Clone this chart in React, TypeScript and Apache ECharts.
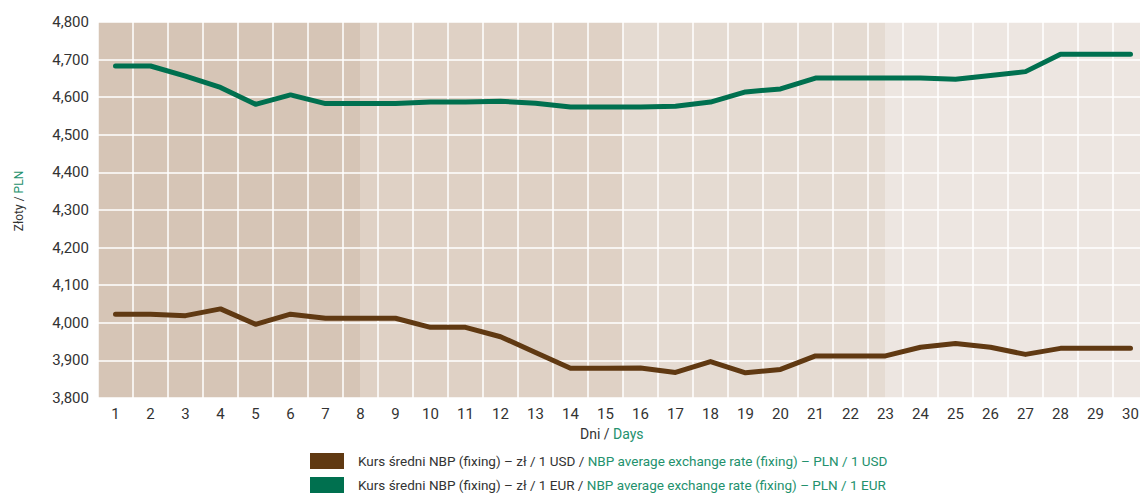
import React, { useEffect, useRef } from "react";
import * as echarts from "echarts";

const days = Array.from({ length: 30 }, (_, i) => String(i + 1));
const usdRates = [4.023, 4.023, 4.019, 4.037, 3.996, 4.023, 4.012, 4.012, 4.012, 3.988, 3.988, 3.963, 3.921, 3.879, 3.879, 3.880, 3.868, 3.897, 3.867, 3.876, 3.912, 3.912, 3.912, 3.935, 3.945, 3.935, 3.916, 3.932, 3.932, 3.932];
const eurRates = [4.683, 4.683, 4.656, 4.626, 4.581, 4.606, 4.583, 4.583, 4.583, 4.587, 4.587, 4.589, 4.584, 4.574, 4.574, 4.574, 4.576, 4.587, 4.614, 4.622, 4.651, 4.651, 4.651, 4.651, 4.648, 4.658, 4.668, 4.714, 4.714, 4.714];
const yMin = 3.8;
const yMax = 4.8;
const yStep = 0.1;
const seriesNames = ["USD", "EUR"];
const legendPl = {
  USD: "Kurs średni NBP (fixing) – zł / 1 USD / ",
  EUR: "Kurs średni NBP (fixing) – zł / 1 EUR / ",
};
const legendEn = {
  USD: "NBP average exchange rate (fixing) – PLN / 1 USD",
  EUR: "NBP average exchange rate (fixing) – PLN / 1 EUR",
};

const BROWN = "#603912";
const GREEN = "#00704f";
const TEXT_GREEN = "#23916d";
const TEXT = "#333333";
const FONT = "Roboto, 'Open Sans', sans-serif";

export default function App() {
  const ref = useRef<HTMLDivElement>(null);
  useEffect(() => {
    if (!ref.current) return;
    const chart = echarts.init(ref.current, null, { renderer: "svg" });
    const bands = ["#d6c5b6", "#dfd1c5", "#e5dbd2", "#ede6e1"];
    const stops: any[] = [];
    bands.forEach((c, i) => {
      stops.push({ offset: i / 4, color: c });
      stops.push({ offset: (i + 1) / 4, color: c });
    });
    const makeLegend = (name: string, top: number) => ({
      show: true,
      orient: "horizontal",
      left: 310,
      top,
      padding: 0,
      itemWidth: 34,
      itemHeight: 16,
      icon: "rect",
      selectedMode: false,
      data: [name],
      formatter: (n: string) => `{a|${(legendPl as any)[n]}}{b|${(legendEn as any)[n]}}`,
      textStyle: {
        padding: [0, 0, 0, 9],
        rich: {
          a: { color: TEXT, fontSize: 13.5, fontFamily: FONT },
          b: { color: TEXT_GREEN, fontSize: 13.5, fontFamily: FONT },
        },
      },
    });
    chart.setOption({
      animation: false,
      textStyle: { fontFamily: FONT },
      grid: {
        show: true,
        left: 98,
        right: 0,
        top: 22,
        bottom: 95,
        borderWidth: 0,
        backgroundColor: new echarts.graphic.LinearGradient(0, 0, 1, 0, stops),
      },
      xAxis: {
        type: "category",
        data: days,
        boundaryGap: true,
        axisLine: { show: false },
        axisTick: { show: false },
        axisLabel: { color: TEXT, fontSize: 15, margin: 8, interval: 0, fontFamily: FONT },
        splitLine: { show: true, interval: 0, lineStyle: { color: "#ffffff", width: 1.5 } },
      },
      yAxis: {
        type: "value",
        min: yMin,
        max: yMax,
        interval: yStep,
        axisLine: { show: false },
        axisTick: { show: false },
        axisLabel: {
          color: TEXT,
          fontSize: 15,
          margin: 9,
          fontFamily: FONT,
          formatter: (v: number) => v.toFixed(3).replace(".", ","),
        },
        splitLine: { show: true, lineStyle: { color: "#ffffff", width: 1.5 } },
      },
      legend: [makeLegend(seriesNames[0], 453), makeLegend(seriesNames[1], 477)],
      graphic: [
        {
          type: "text",
          left: 580,
          top: 427,
          style: {
            text: "{a|Dni / }{b|Days}",
            rich: {
              a: { fill: TEXT, fontSize: 14, fontFamily: FONT },
              b: { fill: TEXT_GREEN, fontSize: 14, fontFamily: FONT },
            },
          },
        },
        {
          type: "text",
          x: 19,
          y: 201,
          rotation: Math.PI / 2,
          style: {
            text: "{a|Złoty / }{b|PLN}",
            align: "center",
            verticalAlign: "middle",
            rich: {
              a: { fill: TEXT, fontSize: 12, fontFamily: FONT },
              b: { fill: TEXT_GREEN, fontSize: 12, fontFamily: FONT },
            },
          },
        },
      ],
      series: [
        {
          name: seriesNames[0],
          type: "line",
          data: usdRates,
          showSymbol: false,
          symbol: "none",
          itemStyle: { color: BROWN },
          lineStyle: { color: BROWN, width: 5, cap: "round", join: "round" },
        },
        {
          name: seriesNames[1],
          type: "line",
          data: eurRates,
          showSymbol: false,
          symbol: "none",
          itemStyle: { color: GREEN },
          lineStyle: { color: GREEN, width: 5, cap: "round", join: "round" },
        },
      ],
    });
    return () => chart.dispose();
  }, []);
  return (
    <div style={{ position: "fixed", left: 0, top: 0, width: 1140, height: 493, overflow: "hidden", background: "#fff" }}>
      <div ref={ref} style={{ width: 1148, height: 493 }} />
    </div>
  );
}
